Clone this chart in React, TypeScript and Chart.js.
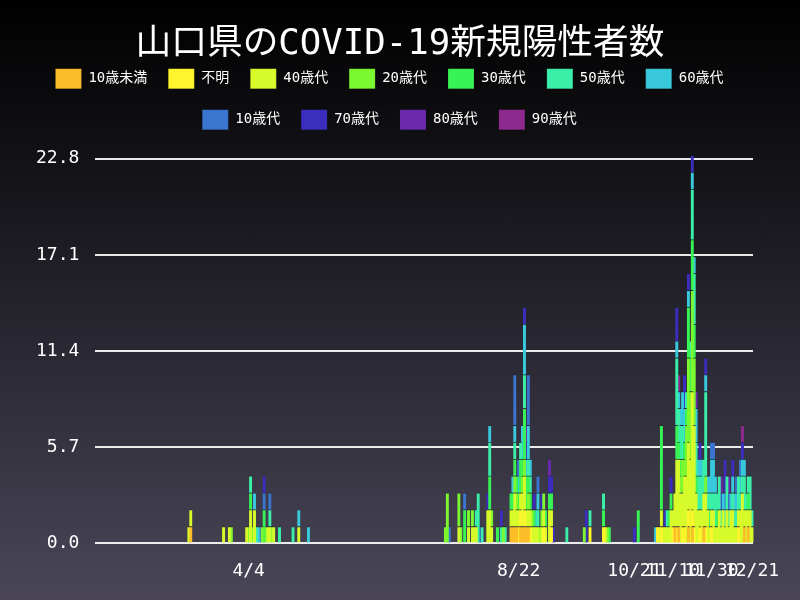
import React, { useEffect, useRef } from 'react';
import { Chart, registerables } from 'chart.js';

Chart.register(...registerables);

// Daily categories run from 1/16 to 12/21 (2020)
const START_DATE = new Date(2020, 0, 16);
const DAY_COUNT = 341;

const X_TICK_LABELS = ['4/4', '8/22', '10/21', '11/10', '11/30', '12/21'];
const Y_TICKS = [0, 5.7, 11.4, 17.1, 22.8];

// Cases per day for each group, [date, count]; days not listed had none
const under10: [string, number][] = [
  ['3/5', 1], ['8/18', 1], ['8/19', 1], ['8/20', 1], ['8/21', 1], ['8/23', 1], ['8/24', 1],
  ['8/25', 1], ['8/26', 1], ['8/27', 1], ['11/11', 1], ['11/13', 1], ['11/18', 1], ['11/20', 1],
  ['11/26', 1], ['12/17', 1], ['12/19', 1],
];

const unknownAge: [string, number][] = [
  ['8/22', 1], ['8/23', 1], ['8/25', 1], ['8/28', 1], ['9/4', 1], ['9/8', 1], ['9/28', 1],
  ['10/5', 1], ['11/2', 1], ['11/4', 1], ['11/10', 1], ['11/12', 1], ['11/15', 1], ['11/16', 1],
  ['11/18', 1], ['11/20', 1], ['11/21', 1], ['11/24', 1], ['11/27', 1], ['11/30', 1], ['12/14', 1],
];

const age40s: [string, number][] = [
  ['3/4', 1], ['3/5', 1], ['3/22', 1], ['3/25', 1], ['4/3', 1], ['4/5', 2], ['4/7', 2], ['4/14', 1],
  ['4/15', 1], ['4/17', 1], ['4/30', 1], ['7/22', 1], ['7/27', 1], ['7/29', 1], ['7/30', 1],
  ['7/31', 1], ['8/6', 2], ['8/7', 2], ['8/8', 1], ['8/18', 1], ['8/19', 1], ['8/20', 2], ['8/21', 1],
  ['8/22', 1], ['8/23', 1], ['8/24', 2], ['8/25', 2], ['8/26', 1], ['8/27', 1], ['8/28', 1],
  ['8/29', 1], ['8/30', 1], ['8/31', 1], ['9/1', 1], ['9/3', 1], ['9/4', 1], ['9/5', 1], ['9/7', 2],
  ['9/8', 1], ['10/6', 1], ['11/3', 1], ['11/4', 1], ['11/5', 1], ['11/6', 1], ['11/7', 1],
  ['11/8', 1], ['11/9', 2], ['11/10', 1], ['11/11', 2], ['11/12', 4], ['11/13', 4], ['11/14', 3],
  ['11/15', 2], ['11/16', 3], ['11/17', 4], ['11/18', 4], ['11/19', 5], ['11/20', 7], ['11/21', 6],
  ['11/22', 3], ['11/23', 2], ['11/24', 1], ['11/25', 2], ['11/26', 2], ['11/27', 2], ['11/28', 2],
  ['11/29', 1], ['11/30', 1], ['12/1', 2], ['12/2', 1], ['12/3', 1], ['12/4', 2], ['12/5', 1],
  ['12/6', 2], ['12/7', 1], ['12/8', 2], ['12/9', 1], ['12/10', 2], ['12/11', 2], ['12/12', 1],
  ['12/13', 1], ['12/14', 1], ['12/15', 2], ['12/16', 3], ['12/17', 1], ['12/18', 2], ['12/19', 1],
  ['12/20', 2], ['12/21', 1],
];

const age20s: [string, number][] = [
  ['3/26', 1], ['4/4', 1], ['4/6', 1], ['4/11', 1], ['4/13', 1], ['4/16', 1], ['7/15', 1],
  ['7/16', 3], ['7/22', 2], ['7/23', 1], ['7/27', 1], ['7/29', 1], ['8/8', 1], ['8/14', 1],
  ['8/20', 1], ['8/21', 1], ['8/24', 1], ['8/25', 1], ['8/27', 1], ['8/29', 1], ['9/2', 1],
  ['9/3', 1], ['9/4', 1], ['9/25', 1], ['10/7', 1], ['11/14', 1], ['11/15', 2], ['11/16', 1],
  ['11/17', 3], ['11/18', 5], ['11/19', 4], ['11/20', 6], ['11/21', 4], ['11/27', 1],
];

const age30s: [string, number][] = [
  ['4/5', 1], ['4/12', 2], ['7/25', 2], ['8/7', 2], ['8/11', 1], ['8/18', 1], ['8/19', 1],
  ['8/20', 1], ['8/21', 1], ['8/22', 1], ['8/23', 2], ['8/24', 1], ['8/25', 3], ['8/26', 2],
  ['8/27', 1], ['8/28', 1], ['8/30', 1], ['9/5', 1], ['9/7', 1], ['9/8', 1], ['10/5', 1],
  ['10/8', 1], ['10/23', 2], ['11/4', 5], ['11/8', 1], ['11/9', 1], ['11/12', 2], ['11/13', 1],
  ['11/14', 1], ['11/16', 1], ['11/17', 1], ['11/18', 3], ['11/19', 2], ['11/20', 3], ['11/21', 2],
  ['11/22', 1], ['11/29', 1], ['12/3', 1], ['12/19', 1],
];

const age50s: [string, number][] = [
  ['4/5', 1], ['4/8', 1], ['4/15', 1], ['4/20', 1], ['4/27', 1], ['7/31', 1], ['8/1', 3], ['8/3', 1],
  ['8/7', 2], ['8/13', 1], ['8/15', 1], ['8/20', 1], ['8/23', 1], ['8/25', 2], ['8/27', 1],
  ['8/28', 1], ['9/1', 1], ['9/16', 1], ['9/28', 1], ['10/5', 1], ['11/7', 1], ['11/12', 4],
  ['11/13', 2], ['11/14', 2], ['11/15', 2], ['11/17', 1], ['11/19', 1], ['11/20', 3], ['11/21', 3],
  ['11/22', 2], ['11/23', 2], ['11/24', 2], ['11/25', 2], ['11/26', 2], ['11/27', 5], ['11/28', 1],
  ['11/29', 1], ['11/30', 1], ['12/1', 1], ['12/2', 2], ['12/3', 1], ['12/4', 2], ['12/5', 1],
  ['12/7', 1], ['12/8', 2], ['12/9', 1], ['12/11', 1], ['12/12', 1], ['12/13', 1], ['12/14', 2],
  ['12/15', 1], ['12/16', 1], ['12/17', 2], ['12/18', 1], ['12/19', 1], ['12/20', 2], ['12/21', 1],
];

const age60s: [string, number][] = [
  ['4/7', 1], ['4/9', 1], ['4/30', 1], ['5/5', 1], ['8/7', 1], ['8/19', 1], ['8/20', 1], ['8/22', 1],
  ['8/24', 2], ['8/25', 3], ['8/26', 1], ['8/27', 2], ['8/28', 1], ['8/31', 1], ['9/1', 1],
  ['11/1', 1], ['11/12', 1], ['11/13', 1], ['11/14', 1], ['11/15', 2], ['11/16', 2], ['11/18', 1],
  ['11/20', 1], ['11/21', 1], ['11/22', 2], ['11/23', 1], ['11/24', 1], ['11/25', 1], ['11/27', 1],
  ['11/28', 1], ['11/29', 1], ['11/30', 2], ['12/1', 2], ['12/2', 1], ['12/6', 1], ['12/10', 1],
  ['12/11', 1], ['12/12', 1], ['12/13', 1], ['12/15', 1], ['12/16', 1], ['12/17', 1],
];

const age10s: [string, number][] = [
  ['4/10', 1], ['4/12', 1], ['4/15', 1], ['7/17', 1], ['7/25', 1], ['8/20', 3], ['8/22', 1],
  ['8/27', 3], ['9/1', 1], ['11/30', 1], ['12/1', 1], ['12/7', 1], ['12/13', 1], ['12/15', 1],
];

const age70s: [string, number][] = [
  ['4/12', 1], ['8/2', 1], ['8/6', 1], ['8/13', 1], ['8/25', 1], ['8/26', 1], ['8/30', 1], ['9/3', 1],
  ['9/7', 1], ['9/8', 1], ['9/9', 1], ['9/26', 2], ['10/21', 1], ['11/6', 1], ['11/9', 1],
  ['11/12', 2], ['11/16', 2], ['11/18', 1], ['11/20', 1], ['11/24', 1], ['11/27', 1], ['12/5', 1],
  ['12/7', 2], ['12/9', 1], ['12/11', 1], ['12/16', 1],
];

const age80s: [string, number][] = [
  ['8/26', 1], ['9/7', 1], ['11/22', 1], ['12/5', 1], ['12/9', 1],
];

const age90s: [string, number][] = [
  ['11/13', 1], ['12/16', 1],
];

// legend order is also the stacking order, bottom first
const SERIES = [
  { label: '10歳未満', color: '#fbbd28', data: under10 },
  { label: '不明', color: '#fff52c', data: unknownAge },
  { label: '40歳代', color: '#d7fb2a', data: age40s },
  { label: '20歳代', color: '#7bf82f', data: age20s },
  { label: '30歳代', color: '#38f356', data: age30s },
  { label: '50歳代', color: '#3aefa8', data: age50s },
  { label: '60歳代', color: '#38c9dc', data: age60s },
  { label: '10歳代', color: '#3a76d0', data: age10s },
  { label: '70歳代', color: '#3b2ebf', data: age70s },
  { label: '80歳代', color: '#6b2aad', data: age80s },
  { label: '90歳代', color: '#8e2a8e', data: age90s },
];

const dayLabels: string[] = [];
for (let i = 0; i < DAY_COUNT; i++) {
  const d = new Date(START_DATE.getFullYear(), START_DATE.getMonth(), START_DATE.getDate() + i);
  dayLabels.push(`${d.getMonth() + 1}/${d.getDate()}`);
}

const toDaily = (pairs: [string, number][]) => {
  const out: (number | null)[] = new Array(DAY_COUNT).fill(null);
  pairs.forEach(([date, n]) => {
    const i = dayLabels.indexOf(date);
    if (i >= 0) out[i] = (out[i] || 0) + n;
  });
  return out;
};

const FONT = "'DejaVu Sans Mono', 'Noto Sans CJK JP', monospace";
const LEGEND_PADDING = 21;

// rows of the legend sit a little left of centre (trailing padding counted in)
const legendShift = {
  id: 'legendShift',
  afterLayout(chart: Chart) {
    const legend = chart.legend;
    if (!legend) return;
    legend.left -= LEGEND_PADDING / 2;
    legend.right -= LEGEND_PADDING / 2;
  },
};

const App: React.FC = () => {
  const chartRef = useRef<HTMLCanvasElement | null>(null);
  const chartInstance = useRef<Chart | null>(null);

  useEffect(() => {
    if (!chartRef.current) return;
    const ctx = chartRef.current.getContext('2d');
    if (!ctx) return;

    chartInstance.current = new Chart(ctx, {
      type: 'bar',
      data: {
        labels: dayLabels,
        datasets: SERIES.map(s => ({
          label: s.label,
          data: toDaily(s.data),
          backgroundColor: s.color,
          borderColor: 'rgba(30, 28, 40, 0.55)',
          borderWidth: { top: 1, right: 0, bottom: 0, left: 0 },
          borderSkipped: 'start',
          barThickness: 3,
          clip: false,
        })),
      },
      plugins: [legendShift],
      options: {
        responsive: true,
        maintainAspectRatio: false,
        animation: false,
        layout: {
          padding: { left: 20, right: 20, top: 0, bottom: 9 },
        },
        plugins: {
          title: {
            display: true,
            text: '山口県のCOVID-19新規陽性者数',
            color: '#ffffff',
            font: { family: FONT, size: 35.7, weight: 'normal', lineHeight: 1 },
            padding: { top: 27, bottom: -15 },
          },
          // empty block that keeps a gap between the legend and the plot
          subtitle: {
            display: true,
            text: '',
            weight: 500,
            font: { size: 19, lineHeight: 1 },
            padding: 0,
          },
          legend: {
            position: 'top',
            labels: {
              color: '#ffffff',
              boxWidth: 26,
              boxHeight: 20,
              padding: LEGEND_PADDING,
              font: { family: FONT, size: 14 },
            },
          },
          tooltip: { enabled: false },
        },
        scales: {
          x: {
            stacked: true,
            grid: { display: false },
            border: { display: false },
            afterFit: scale => {
              scale.paddingRight = 47;
            },
            ticks: {
              color: '#ffffff',
              font: { family: FONT, size: 18 },
              autoSkip: false,
              maxRotation: 0,
              padding: 9,
              callback: (_v, i) => (X_TICK_LABELS.includes(dayLabels[i]) ? dayLabels[i] : ''),
            },
          },
          y: {
            stacked: true,
            min: 0,
            max: 22.8,
            z: 1,
            afterBuildTicks: axis => {
              axis.ticks = Y_TICKS.map(v => ({ value: v }));
            },
            grid: { color: 'rgba(255, 255, 255, 0.9)', lineWidth: 2, drawTicks: false },
            border: { display: false },
            ticks: {
              color: '#ffffff',
              font: { family: FONT, size: 18 },
              padding: 16,
              callback: v => Number(v).toFixed(1),
            },
          },
        },
      },
    });

    return () => {
      if (chartInstance.current) {
        chartInstance.current.destroy();
        chartInstance.current = null;
      }
    };
  }, []);

  return (
    <div
      style={{
        position: 'fixed',
        left: 0,
        top: 0,
        width: '800px',
        height: '600px',
        background: 'linear-gradient(to bottom, #000000 0%, #1c1b22 40%, #4a4658 100%)',
      }}
    >
      <canvas ref={chartRef} style={{ width: '100%', height: '100%' }} />
    </div>
  );
};

export default App;
